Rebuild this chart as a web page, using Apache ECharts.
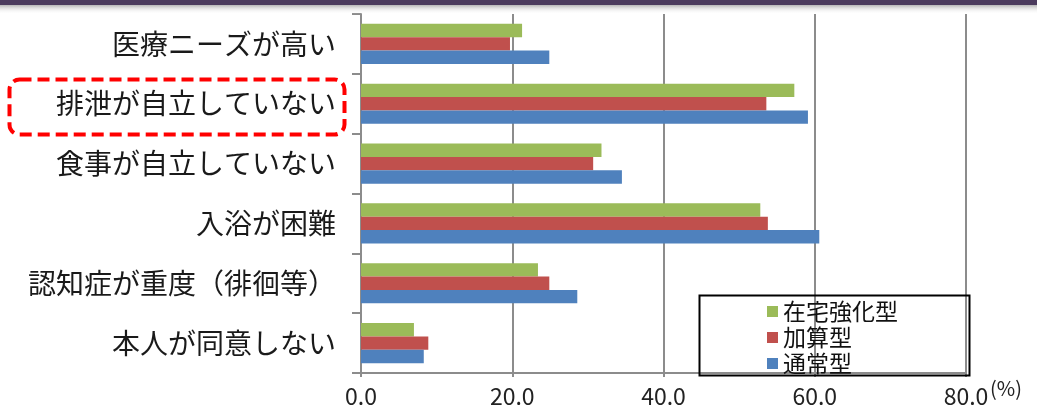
<!DOCTYPE html>
<html><head><meta charset="utf-8">
<script src="https://cdn.jsdelivr.net/npm/echarts@6/dist/echarts.min.js"></script>
<style>html,body{margin:0;padding:0;background:#fff}#c{width:1037px;height:408px}</style>
</head><body><div id="c"></div>
<script>
const categories = ['医療ニーズが高い','排泄が自立していない','食事が自立していない','入浴が困難','認知症が重度（徘徊等）','本人が同意しない'];
const seriesNames = ['在宅強化型','加算型','通常型'];
const zaitaku = [21.3, 57.3, 31.8, 52.8, 23.4, 7.0];
const kasan = [19.7, 53.6, 30.7, 53.8, 24.9, 8.9];
const tsujo = [24.9, 59.1, 34.5, 60.6, 28.6, 8.3];
const colors = ['#9BBB59','#C0504D','#4F81BD'];
const xTicks = [0, 20, 40, 60, 80];

const font = '"Noto Sans CJK JP", sans-serif';
const chart = echarts.init(document.getElementById('c'));
const values = [zaitaku, kasan, tsujo];
chart.setOption({
  animation: false,
  textStyle: { fontFamily: font },
  grid: { left: 361, right: 71, top: 14, bottom: 33, containLabel: false },
  legend: {
    orient: 'vertical', left: 762, top: 295,
    itemWidth: 11, itemHeight: 11, itemGap: 3,
    icon: 'rect',
    data: seriesNames,
    textStyle: { fontSize: 23, color: '#111', fontFamily: font }
  },
  xAxis: {
    type: 'value', min: xTicks[0], max: xTicks[xTicks.length - 1], interval: 20,
    axisLine: { show: true, lineStyle: { color: '#8c8c8c', width: 2 } },
    axisTick: { show: true, length: 4, lineStyle: { color: '#8c8c8c', width: 2 } },
    splitLine: { show: true, lineStyle: { color: '#8c8c8c', width: 2 } },
    axisLabel: { formatter: v => v.toFixed(1), fontSize: 23, color: '#222', margin: 12, fontFamily: font }
  },
  yAxis: {
    type: 'category', data: categories, inverse: true,
    axisLine: { show: true, lineStyle: { color: '#8c8c8c', width: 2 } },
    axisTick: { show: true, length: 9, lineStyle: { color: '#8c8c8c', width: 2 } },
    axisLabel: { fontSize: 28, color: '#1a1a1a', margin: 25, fontFamily: font }
  },
  series: seriesNames.map((n, i) => ({
    name: n, type: 'bar', data: values[i],
    barGap: '0%', barCategoryGap: '33%',
    itemStyle: { color: colors[i] }
  })),
  graphic: [
    { type: 'rect', left: 0, top: 0, shape: { width: 1037, height: 5 }, style: { fill: '#4b3b5d' }, z: 10 },
    { type: 'rect', left: 0, top: 5, shape: { width: 1037, height: 9 },
      style: { fill: new echarts.graphic.LinearGradient(0,0,0,1,[{offset:0,color:'#b5b5b5'},{offset:1,color:'rgba(255,255,255,0)'}]) }, z: 10 },
    { type: 'rect', left: 697, top: 293, shape: { width: 270, height: 80 },
      style: { fill: 'none', stroke: '#000', lineWidth: 2 }, z: 20 },
    { type: 'rect', left: 7, top: 77, shape: { width: 335, height: 55, r: 10 },
      style: { fill: 'none', stroke: '#ff0000', lineWidth: 4, lineDash: [12, 6] }, z: 20 },
    { type: 'text', left: 990, top: 378, style: { text: '(%)', fontSize: 20, fill: '#222', fontFamily: font }, z: 20 }
  ]
});
</script></body></html>
